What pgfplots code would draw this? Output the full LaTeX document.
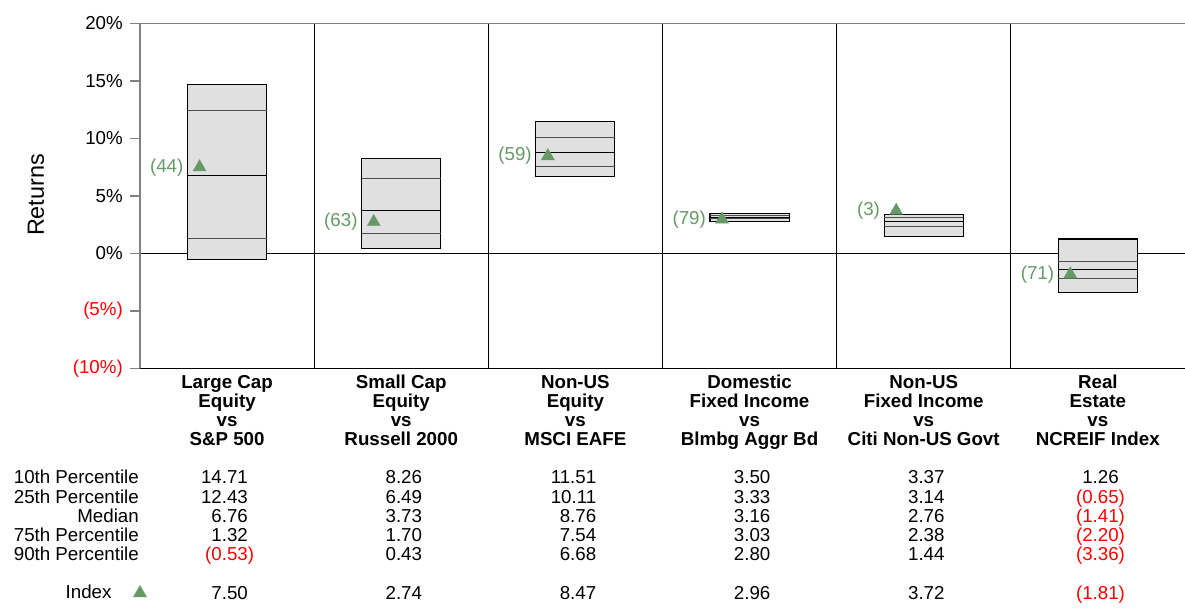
\documentclass[border=0pt]{standalone}
\usepackage{fontspec}
\setmainfont{Liberation Sans}
\usepackage{pgfplots}
\usepackage{pgfplotstable}
\pgfplotsset{compat=1.18}
\pgfkeys{/pgf/number format/assume math mode=true}

\definecolor{boxgray}{RGB}{224,224,224}
\definecolor{idxgreen}{RGB}{102,153,102}
\definecolor{spinegray}{RGB}{128,128,128}

\newcommand\tablefont{\fontsize{18.8}{19.2}\selectfont}

% percentiles of each peer group, index return and its rank
\pgfplotstableread{
x p10   p25   med   p75   p90   idx   rank
0 14.71 12.43 6.76  1.32  -0.53 7.50  (44)
1 8.26  6.49  3.73  1.70  0.43  2.74  (63)
2 11.51 10.11 8.76  7.54  6.68  8.47  (59)
3 3.50  3.33  3.16  3.03  2.80  2.96  (79)
4 3.37  3.14  2.76  2.38  1.44  3.72  (3)
5 1.26  -0.65 -1.41 -2.20 -3.36 -1.81 (71)
}\stats

% negative values in red, in parentheses
\newcommand\cell[1]{%
  \ifdim #1pt<0pt
    \pgfmathparse{abs(#1)}%
    \textcolor{red}{(\pgfmathprintnumber[fixed,fixed zerofill,precision=2]{\pgfmathresult}\rlap{)}}%
  \else
    \pgfmathprintnumber[fixed,fixed zerofill,precision=2]{#1}%
  \fi}

\begin{document}
\begin{tikzpicture}
\begin{axis}[
  at={(140bp,239.5bp)}, anchor=south west,
  width=1045bp, height=345bp, scale only axis,
  xmin=-0.5, xmax=5.5, ymin=-10, ymax=20,
  clip=false,
  axis line style={draw=none},
  xtick={0,...,5},
  xticklabels={{Large Cap\\Equity\\vs\\S\&P 500},
               {Small Cap\\Equity\\vs\\Russell 2000},
               {Non-US\\Equity\\vs\\MSCI EAFE},
               {Domestic\\Fixed Income\\vs\\Blmbg Aggr Bd},
               {Non-US\\Fixed Income\\vs\\Citi Non-US Govt},
               {Real\\Estate\\vs\\NCREIF Index}},
  xticklabel style={align=center, font=\bfseries\tablefont, anchor=base, inner sep=0pt,
    yshift=-67bp},
  xtick style={draw=none},
  ytick={-10,-5,...,20},
  yticklabels={{\color{red}(10\%)},{\color{red}(5\%)},0\%,5\%,10\%,15\%,20\%},
  ytick pos=left,
  tick align=outside,
  major tick length=10bp,
  ytick style={draw=spinegray, line width=1.2bp},
  yticklabel style={font=\tablefont, inner sep=0pt, xshift=-7bp},
  extra x ticks={0.5,1.5,2.5,3.5,4.5},
  extra x tick labels={},
  extra x tick style={grid=major, tick style={draw=none}},
  major grid style={black, line width=0.9bp},
  legend plot pos=right,
  legend style={draw=none, fill=none, inner sep=0pt, outer sep=0pt,
    at={(0.0062,-0.648)}, anchor=east, font=\tablefont,
    /tikz/every odd column/.append style={column sep=20bp}},
  legend image code/.code={\draw[#1] plot coordinates {(0bp,-1bp)};},
]
\addplot[forget plot, black, line width=1bp] coordinates {(-0.5,0) (5.5,0)};

\addplot[forget plot, draw=black, fill=boxgray, line width=1.1bp] coordinates {(-0.227,-0.53) (0.227,-0.53) (0.227,14.71) (-0.227,14.71)} -- cycle;
\addplot[forget plot, draw=black, fill=boxgray, line width=1.1bp] coordinates {(0.773,0.43) (1.227,0.43) (1.227,8.26) (0.773,8.26)} -- cycle;
\addplot[forget plot, draw=black, fill=boxgray, line width=1.1bp] coordinates {(1.773,6.68) (2.227,6.68) (2.227,11.51) (1.773,11.51)} -- cycle;
\addplot[forget plot, draw=black, fill=boxgray, line width=1.1bp] coordinates {(2.773,2.80) (3.227,2.80) (3.227,3.50) (2.773,3.50)} -- cycle;
\addplot[forget plot, draw=black, fill=boxgray, line width=1.1bp] coordinates {(3.773,1.44) (4.227,1.44) (4.227,3.37) (3.773,3.37)} -- cycle;
\addplot[forget plot, draw=black, fill=boxgray, line width=1.1bp] coordinates {(4.773,-3.36) (5.227,-3.36) (5.227,1.26) (4.773,1.26)} -- cycle;

\addplot[forget plot, only marks, mark=-, mark size=39.5bp, black!70, mark options={line width=0.9bp}] table[x=x, y=p25]{\stats};
\addplot[forget plot, only marks, mark=-, mark size=39.5bp, black, mark options={line width=0.9bp}] table[x=x, y=med]{\stats};
\addplot[forget plot, only marks, mark=-, mark size=39.5bp, black!70, mark options={line width=0.9bp}] table[x=x, y=p75]{\stats};

\addplot[only marks, mark=triangle*, mark size=7.5bp, color=idxgreen,
  point meta=explicit symbolic,
  nodes near coords,
  nodes near coords style={anchor=east, inner sep=0pt, xshift=-16bp, text=idxgreen, font=\tablefont},
] table[x expr=\thisrow{x}-0.158, y=idx, meta=rank]{\stats};
\addlegendentry{Index}

\draw[spinegray, line width=1.5bp] (axis cs:-0.5,-10) -- (axis cs:-0.5,20) -- (axis cs:5.5,20);
\draw[black, line width=1bp] (axis cs:-0.5,-10) -- (axis cs:5.5,-10);
\end{axis}

\begin{scope}[x=1bp,y=1bp]
\node[rotate=90, font=\fontsize{23.5}{24}\selectfont] at (36,413) {Returns};

\foreach \yy/\lab/\vals in {
  124/10th Percentile/{14.71,8.26,11.51,3.50,3.37,1.26},
  104.8/25th Percentile/{12.43,6.49,10.11,3.33,3.14,-0.65},
  85.6/Median/{6.76,3.73,8.76,3.16,2.76,-1.41},
  66.4/75th Percentile/{1.32,1.70,7.54,3.03,2.38,-2.20},
  47.2/90th Percentile/{-0.53,0.43,6.68,2.80,1.44,-3.36},
  8.7//{7.50,2.74,8.47,2.96,3.72,-1.81}}{
  \node[anchor=base east, inner sep=0pt, font=\tablefont] at (139,\yy) {\lab};
  \foreach \v [count=\i from 0] in \vals
    \node[anchor=base east, inner sep=0pt, font=\tablefont] at ({140+(\i+0.5)*174.17+21},\yy) {\cell{\v}};
}

\pgfresetboundingbox
\useasboundingbox (0,0) rectangle (1185,608);
\end{scope}
\end{tikzpicture}
\end{document}
